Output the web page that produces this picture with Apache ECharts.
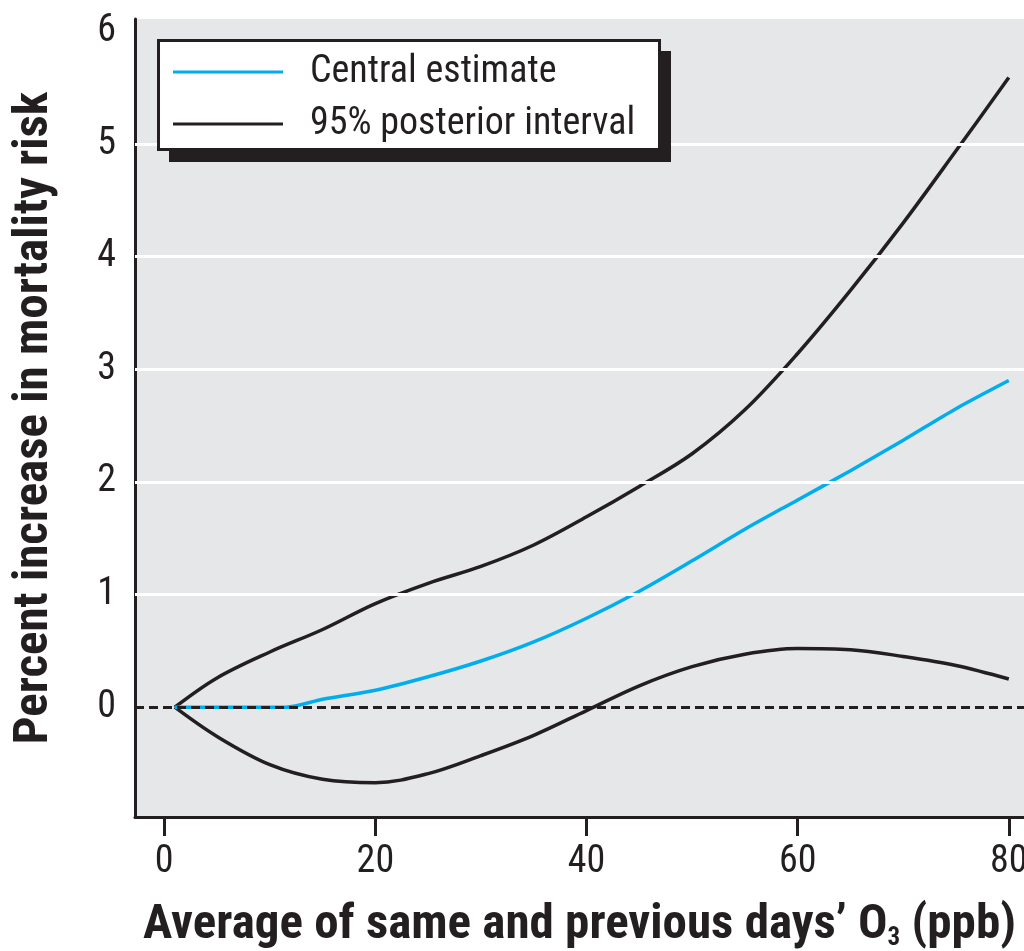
<!DOCTYPE html>
<html>
<head>
<meta charset="utf-8">
<script src="https://cdn.jsdelivr.net/npm/echarts@6/dist/echarts.min.js"></script>
<style>html,body{margin:0;padding:0;background:#fff;}#c{width:1024px;height:951px;}</style>
</head>
<body>
<div id="c"></div>
<script>
// ---- data ----
const boundX = [1, 5, 10, 15, 20, 25, 30, 35, 40, 45, 50, 55, 60, 65, 70, 75, 80];
const upperY = [0, 0.26, 0.49, 0.69, 0.92, 1.10, 1.25, 1.44, 1.69, 1.96, 2.25, 2.64, 3.14, 3.70, 4.30, 4.94, 5.59];
const lowerY = [0, -0.26, -0.51, -0.64, -0.67, -0.59, -0.43, -0.25, -0.03, 0.19, 0.36, 0.47, 0.52, 0.51, 0.45, 0.37, 0.25];
const centralX = [1, 11.5, 15, 20, 25, 30, 35, 40, 45, 50, 55, 60, 65, 70, 75, 80];
const centralY = [0, 0, 0.07, 0.15, 0.27, 0.41, 0.58, 0.79, 1.03, 1.30, 1.58, 1.84, 2.10, 2.37, 2.65, 2.90];
const xTicks = [0, 20, 40, 60, 80];
const yTicks = [0, 1, 2, 3, 4, 5, 6];
const gridYs = [1, 2, 3, 4, 5];
const legendNames = ['Central estimate', '95% posterior interval'];
const xTitle = 'Average of same and previous days\u2019 O';
const xTitleSub = '3';
const xTitleEnd = ' (ppb)';
const yTitle = 'Percent increase in mortality risk';

const pairs = (xs, ys) => xs.map((x, i) => [x, ys[i]]);
const FONT = "'Roboto Condensed', 'Liberation Sans', sans-serif";
const INK = '#231f20';
const BLUE = '#00aeef';

const chart = echarts.init(document.getElementById('c'), null, {renderer: 'canvas'});
chart.setOption({
  animation: false,
  backgroundColor: '#ffffff',
  textStyle: {fontFamily: FONT, color: INK},
  grid: {left: 135, right: 0, top: 19, bottom: 134, show: true, backgroundColor: '#e6e7e8', borderWidth: 0,
         containLabel: false, outerBoundsMode: 'none'},
  xAxis: {
    type: 'value', min: -2.77, max: 81.44,
    name: '{t|' + xTitle + '}{s|' + xTitleSub + '}{t|' + xTitleEnd + '}',
    nameLocation: 'middle', nameGap: 84, nameMoveOverlap: false,
    nameTextStyle: {
      rich: {
        t: {fontFamily: FONT, fontWeight: 'bold', fontSize: 49, lineHeight: 50, color: INK},
        s: {fontFamily: FONT, fontWeight: 'bold', fontSize: 25, lineHeight: 25, verticalAlign: 'bottom', color: INK}
      }
    },
    axisLine: {show: true, onZero: false, lineStyle: {color: INK, width: 3}},
    axisTick: {show: true, length: 19, inside: false, customValues: xTicks, lineStyle: {color: INK, width: 3}},
    axisLabel: {customValues: xTicks, fontFamily: FONT, fontSize: 38, color: INK, margin: 26},
    splitLine: {show: false}
  },
  yAxis: {
    type: 'value', min: -0.975, max: 6.11,
    name: yTitle, nameLocation: 'middle', nameGap: 75, nameMoveOverlap: false,
    nameTextStyle: {fontFamily: FONT, fontWeight: 'bold', fontSize: 49, lineHeight: 50, color: INK},
    axisLine: {show: true, onZero: false, lineStyle: {color: INK, width: 3}},
    axisTick: {show: false, customValues: yTicks},
    axisLabel: {customValues: yTicks, fontFamily: FONT, fontSize: 38, color: INK, margin: 19},
    splitLine: {show: false}
  },
  graphic: [
    {type: 'rect', z: 10, shape: {x: 169, y: 51, width: 502, height: 111}, style: {fill: INK}},
    {type: 'rect', z: 11, shape: {x: 158.5, y: 40.5, width: 501, height: 109}, style: {fill: '#ffffff', stroke: INK, lineWidth: 3}}
  ],
  legend: {
    z: 20, orient: 'vertical', left: 173, top: 52, padding: 0,
    itemWidth: 110, itemHeight: 3, itemGap: 12, itemTextGap: 29, icon: 'rect',
    data: legendNames,
    textStyle: {fontFamily: FONT, fontSize: 38, lineHeight: 40, color: INK, padding: [0, 0, 0, 22]}
  },
  series: [
    {
      type: 'line', name: '_grid', data: [], z: 1, silent: true,
      markLine: {
        silent: true, symbol: 'none', animation: false,
        label: {show: false},
        data: gridYs.map(v => ({yAxis: v, lineStyle: {color: '#ffffff', width: 3, type: 'solid'}}))
          .concat([{yAxis: 0, lineStyle: {color: INK, width: 3, type: [9, 5]}}])
      }
    },
    {
      type: 'line', name: legendNames[1], data: pairs(boundX, upperY), z: 3,
      smooth: 0.35, showSymbol: false, symbol: 'none',
      lineStyle: {color: INK, width: 3.5}, itemStyle: {color: INK}
    },
    {
      type: 'line', name: legendNames[1], data: pairs(boundX, lowerY), z: 3,
      smooth: 0.35, showSymbol: false, symbol: 'none',
      lineStyle: {color: INK, width: 3.5}, itemStyle: {color: INK}
    },
    {
      type: 'line', name: legendNames[0], data: pairs(centralX, centralY), z: 4,
      smooth: 0.3, showSymbol: false, symbol: 'none',
      lineStyle: {color: BLUE, width: 3.5}, itemStyle: {color: BLUE}
    }
  ]
});
</script>
</body>
</html>
